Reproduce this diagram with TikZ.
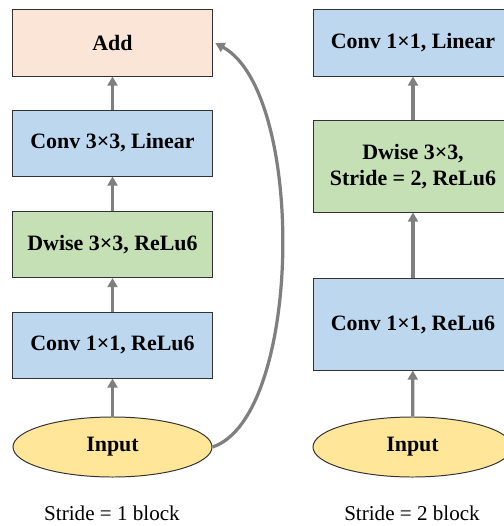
\documentclass[tikz,border=0pt]{standalone}
\usepackage{fontspec}
\setmainfont{Liberation Serif}
\usepackage{tikz}
\usetikzlibrary{arrows.meta}
\usetikzlibrary{positioning}
\usetikzlibrary{shapes.geometric}

\definecolor{addfill}{HTML}{FBE5D6}
\definecolor{convfill}{HTML}{BDD7EE}
\definecolor{dwfill}{HTML}{C5E0B4}
\definecolor{infill}{HTML}{FFE699}
\definecolor{flowgray}{HTML}{7F7F7F}
\definecolor{edge}{HTML}{333333}

\begin{document}
\begin{tikzpicture}[x=0.025cm,y=-0.025cm,
  every node/.style={font=\fontsize{15}{17}\selectfont},
  layer/.style={draw=edge,line width=0.7pt,rectangle,minimum width=4.975cm,minimum height=1.65cm,align=center,font=\fontsize{15.6}{18}\selectfont\bfseries},
  tall/.style={minimum height=2.275cm},
  inp/.style={draw=edge,line width=0.7pt,ellipse,fill=infill,minimum width=4.975cm,minimum height=1.5cm,font=\fontsize{15.6}{18}\selectfont\bfseries},
  flow/.style={draw=flowgray,line width=2.3pt,-{Triangle[length=2.3mm,width=2.5mm]}}]
  \useasboundingbox (0,0) rectangle (504,526);
  % stride 1
  \node [layer,fill=addfill] (add) at (112.5,43) {Add};
  \node [layer,fill=convfill] (lin1) at (112.5,143) {Conv 3×3, Linear};
  \node [layer,fill=dwfill] (dw1) at (112.5,244.5) {Dwise 3×3, ReLu6};
  \node [layer,fill=convfill] (exp1) at (112.5,345) {Conv 1×1, ReLu6};
  \node [inp] (in1) at (112.5,447) {Input};
  \node (cap1) at (112,513) {Stride = 1 block};
  % stride 2
  \node [layer,fill=convfill] (lin2) at (413,43) {Conv 1×1, Linear};
  \node [layer,tall,fill=dwfill] (dw2) at (413,166.5) {Dwise 3×3,\\Stride = 2, ReLu6};
  \node [layer,tall,fill=convfill] (exp2) at (413,324.5) {Conv 1×1, ReLu6};
  \node [inp] (in2) at (412.5,447) {Input};
  \node (cap2) at (412,513) {Stride = 2 block};
  \draw[flow](in1)--(exp1);
  \draw[flow](exp1)--(dw1);
  \draw[flow](dw1)--(lin1);
  \draw[flow](lin1)--(add);
  \draw[flow](in2)--(exp2);
  \draw[flow](exp2)--(dw2);
  \draw[flow](dw2)--(lin2);
  %shortcut
  \draw[flow](in1.east) .. controls +(90,-30) and +(91,50) .. ([xshift=2pt]add.east);
\end{tikzpicture}
\end{document}
